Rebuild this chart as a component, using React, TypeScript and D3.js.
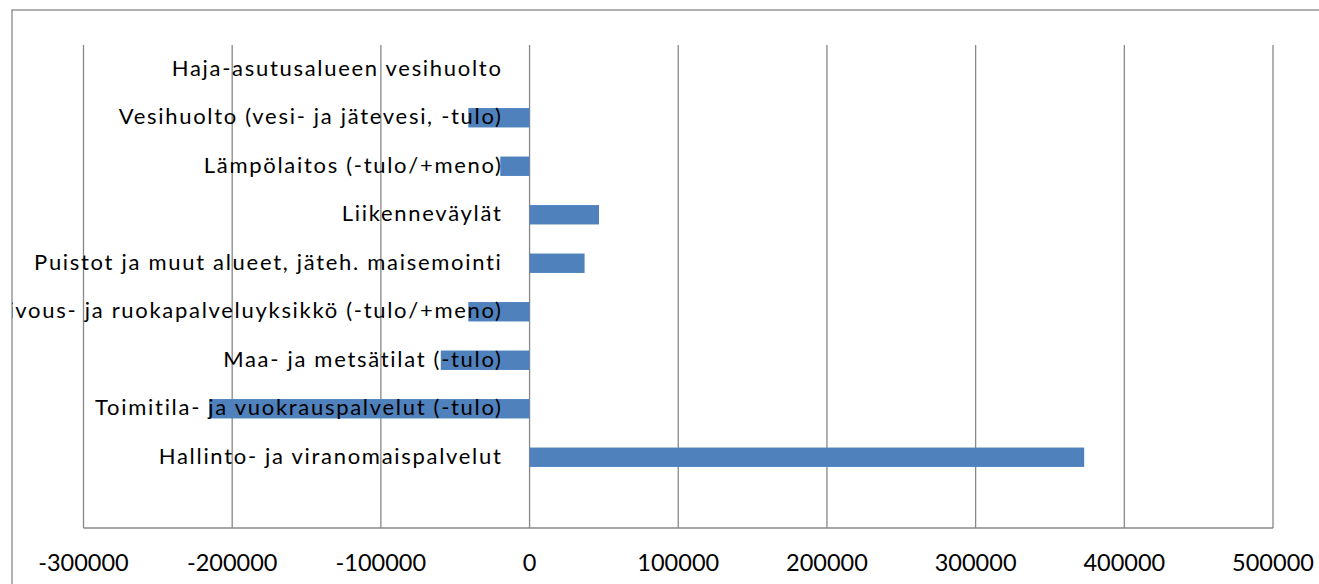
import React, { useRef, useEffect } from "react";
import * as d3 from "d3";

// categories from top to bottom (the last one is an empty slot in the original)
const categories = [
  "Haja-asutusalueen vesihuolto",
  "Vesihuolto (vesi- ja jätevesi, -tulo)",
  "Lämpölaitos (-tulo/+meno)",
  "Liikenneväylät",
  "Puistot ja muut alueet, jäteh. maisemointi",
  "Siivous- ja ruokapalveluyksikkö (-tulo/+meno)",
  "Maa- ja metsätilat (-tulo)",
  "Toimitila- ja vuokrauspalvelut (-tulo)",
  "Hallinto- ja viranomaispalvelut",
  "",
];

const values = [0, -41200, -19700, 46700, 37000, -41200, -59700, -215500, 373000, 0];

const tickValues = [-300000, -200000, -100000, 0, 100000, 200000, 300000, 400000, 500000];

export default function App() {
  const svgRef = useRef<SVGSVGElement | null>(null);

  useEffect(() => {
    const svg = d3.select(svgRef.current);
    svg.selectAll("*").remove();

    const width = 1319;
    const height = 584;
    const left = 83.5;
    const right = 1273;
    const top = 45;
    const bottom = 528;

    const x = d3.scaleLinear().domain([-300000, 500000]).range([left, right]);
    // band range runs a little past the axis line, like in the original
    const y = d3
      .scaleBand()
      .domain(categories.map((_, i) => String(i)))
      .range([top, bottom + 2])
      .padding(0);

    // excel gap width 150%
    const barH = y.bandwidth() / 2.5;

    // clip for labels which run out of the frame
    svg
      .append("defs")
      .append("clipPath")
      .attr("id", "frame")
      .append("rect")
      .attr("x", 12)
      .attr("y", 10)
      .attr("width", width)
      .attr("height", height);

    // frame
    svg
      .append("rect")
      .attr("x", 12)
      .attr("y", 10)
      .attr("width", width + 20)
      .attr("height", height + 20)
      .attr("fill", "#fff")
      .attr("stroke", "#888")
      .attr("stroke-width", 1.3);

    // vertical gridlines
    svg
      .append("g")
      .selectAll("line")
      .data(tickValues)
      .enter()
      .append("line")
      .attr("x1", (d) => x(d))
      .attr("x2", (d) => x(d))
      .attr("y1", top)
      .attr("y2", bottom)
      .attr("stroke", "#888")
      .attr("stroke-width", 1.3);

    // axis line
    svg
      .append("line")
      .attr("x1", left)
      .attr("x2", right)
      .attr("y1", bottom)
      .attr("y2", bottom)
      .attr("stroke", "#888")
      .attr("stroke-width", 1.3);

    // bars
    svg
      .append("g")
      .selectAll("rect")
      .data(values.map((v, i) => ({ v, i })).filter((d) => d.v !== 0))
      .enter()
      .append("rect")
      .attr("x", (d) => Math.min(x(0), x(d.v)))
      .attr("width", (d) => Math.abs(x(d.v) - x(0)))
      .attr("y", (d) => (y(String(d.i)) as number) + (y.bandwidth() - barH) / 2)
      .attr("height", barH)
      .attr("fill", "#4F81BD");

    // category labels, next to the zero axis
    svg
      .append("g")
      .attr("clip-path", "url(#frame)")
      .selectAll("text")
      .data(categories)
      .enter()
      .append("text")
      .attr("x", x(0) - 27)
      .attr("y", (_, i) => (y(String(i)) as number) + y.bandwidth() / 2 + 6.5)
      .attr("text-anchor", "end")
      .attr("font-family", "Lato, sans-serif")
      .attr("font-size", 22)
      .attr("letter-spacing", 1.7)
      .attr("fill", "#000")
      .text((d) => d);

    // tick labels
    svg
      .append("g")
      .selectAll("text")
      .data(tickValues)
      .enter()
      .append("text")
      .attr("x", (d) => x(d))
      .attr("y", 571)
      .attr("text-anchor", "middle")
      .attr("font-family", "Lato, sans-serif")
      .attr("font-size", 23.5)
      .attr("fill", "#000")
      .text((d) => String(d));
  }, []);

  return (
    <>
      <style>{`body{margin:0;overflow:hidden}`}</style>
      <svg
        ref={svgRef}
        width={1319}
        height={584}
        style={{ display: "block", background: "#fff" }}
      ></svg>
    </>
  );
}
